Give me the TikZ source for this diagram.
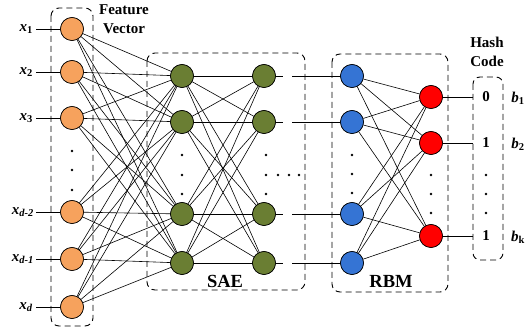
\documentclass[tikz,border=0pt]{standalone}
\usepackage{fontspec}
\setmainfont{Liberation Serif}
\definecolor{orangefill}{HTML}{F6A25D}
\definecolor{greenfill}{HTML}{6A7E33}
\definecolor{bluefill}{HTML}{3574D4}
\definecolor{redfill}{HTML}{FF0000}
\begin{document}
\begin{tikzpicture}[x=1pt,y=-1pt,
 neuron/.style={circle,draw=black,line width=0.6pt,minimum size=23pt,inner sep=0pt},
 inp/.style={neuron,fill=orangefill},
 sae/.style={neuron,fill=greenfill},
 vis/.style={neuron,fill=bluefill},
 hid/.style={neuron,fill=redfill},
 box/.style={draw=black,dash pattern=on 6pt off 4pt,line width=0.9pt,rounded corners=8pt},
 edge/.style={line width=0.6pt},
 dotn/.style={circle,fill=black,inner sep=0pt,minimum size=2.6pt},
 lbl/.style={font=\fontsize{15}{18}\selectfont\bfseries,inner sep=0pt},
 big/.style={font=\fontsize{18.5}{20}\selectfont\bfseries,inner sep=0pt}
]
\useasboundingbox (0,0) rectangle (531,331);

% boxes
\draw[box] (51,8) rectangle (93,326);
\draw[box] (147,53) rectangle (305,290);
\draw[box] (332,54) rectangle (448,292);
\draw[box,rounded corners=7pt] (473,77) rectangle (503,260);

% input nodes
\foreach \n/\y in {1/29,2/72,3/118,4/212,5/259,6/307}{
  \node[inp] (i\n) at (72,\y) {};
  \coordinate (l\n) at (36,\y);
}
\node[lbl,anchor=east] (xl1) at (33,29) {\textit{x}\textsubscript{1}};
\node[lbl,anchor=east] (xl2) at (33,72) {\textit{x}\textsubscript{2}};
\node[lbl,anchor=east] (xl3) at (33,118) {\textit{x}\textsubscript{3}};
\node[lbl,anchor=east] (xl4) at (34,212) {\textit{x}\textsubscript{\textit{d-2}}};
\node[lbl,anchor=east] (xl5) at (34,259) {\textit{x}\textsubscript{\textit{d-1}}};
\node[lbl,anchor=east] (xl6) at (33,307) {\textit{x}\textsubscript{\textit{d}}};
\foreach \n in {1,...,6}{\draw[edge] (l\n) -- (i\n);}

% SAE and RBM nodes
\foreach \n/\y in {1/76,2/122,3/214,4/263}{
  \node[sae] (s\n) at (182,\y) {};
  \node[sae] (t\n) at (264,\y) {};
  \node[vis] (v\n) at (352,\y) {};
  \coordinate (g\n) at (292,\y);
}
\foreach \n/\y in {1/97,2/143,3/236}{
  \node[hid] (h\n) at (431,\y) {};
  \coordinate (e\n) at (473,\y);
}

% connections
\foreach \a in {1,...,6}{\foreach \b in {1,...,4}{\draw[edge] (i\a) -- (s\b);}}
\foreach \a in {1,...,4}{\foreach \b in {1,...,4}{\draw[edge] (s\a) -- (t\b);}}
\foreach \a in {1,...,4}{\foreach \b in {1,...,3}{\draw[edge] (v\a) -- (h\b);}}
\foreach \n in {1,...,4}{
  \draw[edge] (t\n.east) -- ++(7,0);
  \draw[edge] (g\n) -- (v\n);
}
\foreach \n in {1,...,3}{\draw[edge] (h\n) -- (e\n);}

% redraw nodes on top
\foreach \n/\y in {1/29,2/72,3/118,4/212,5/259,6/307}{\node[inp] at (72,\y) {};}
\foreach \n/\y in {1/76,2/122,3/214,4/263}{
  \node[sae] at (182,\y) {};
  \node[sae] at (264,\y) {};
  \node[vis] at (352,\y) {};
}
\foreach \n/\y in {1/97,2/143,3/236}{\node[hid] at (431,\y) {};}

% dots
\foreach \x/\y [count=\k] in {72/151,72/170,72/190,182/155,182/175,182/194,266/155,266/175,266/194,
  278/175,289/175,299/175,352/155,352/174,352/193,431/175,431/194,431/213,486/175,486/194,486/213}{
  \node[dotn] (d\k) at (\x,\y) {};
}

% hash code values
\node[lbl] (c1) at (486,97) {0};
\node[lbl] (c2) at (486,143) {1};
\node[lbl] (c3) at (486,236) {1};
\node[lbl] (b1) at (518,98) {\textit{b}\textsubscript{1}};
\node[lbl] (b2) at (518,144) {\textit{b}\textsubscript{2}};
\node[lbl] (b3) at (518,237) {\textit{b}\textsubscript{k}};

% titles
\node[lbl,align=center] (fv) at (124,19) {Feature\\[1pt]Vector};
\node[lbl,align=center] (hc) at (487,52) {Hash\\[1pt]Code};
\node[big] (sae) at (225,281) {SAE};
\node[big] (rbm) at (391,281) {RBM};
\end{tikzpicture}
\end{document}
